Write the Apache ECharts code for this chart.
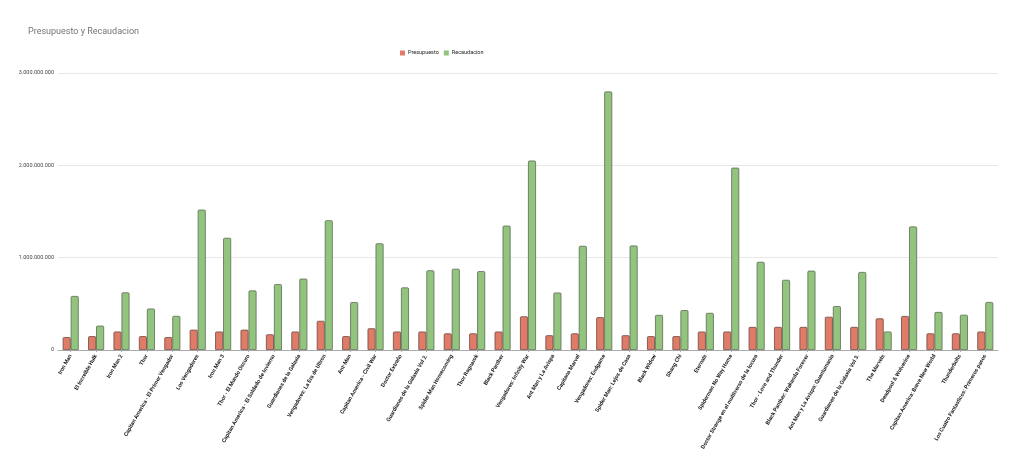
<!DOCTYPE html>
<html>
<head>
<meta charset="utf-8">
<script src="https://cdn.jsdelivr.net/npm/echarts@6/dist/echarts.min.js"></script>
<style>
  html, body { margin: 0; padding: 0; background: #fff; }
  #main { width: 1024px; height: 469px; }
</style>
</head>
<body>
<div id="main"></div>
<script>
var peliculas = [
    'Iron Man', 'El Increible Hulk', 'Iron Man 2', 'Thor',
    'Capitan America - El Primer Vengador', 'Los Vengadores', 'Iron Man 3',
    'Thor - El Mundo Oscuro', 'Capitan America - El Soldado de Invierno',
    'Guardianes de la Galaxia', 'Vengadores: La Era de Ultron', 'Ant-Man',
    'Capitan America - Civil War', 'Doctor Extraño', 'Guardianes de la Galaxia Vol 2.',
    'Spider Man Homecoming', 'Thor Ragnarok', 'Black Panther', 'Vengadores: Infinity War',
    'Ant Man y La Avispa', 'Capitana Marvel', 'Vengadores: Endgame',
    'Spider Man: Lejos de Casa', 'Black Widow', 'Shang Chi', 'Eternals',
    'Spiderman No Way Home', 'Doctor Strange en el multiverso de la locura',
    'Thor - Love and Thunder', 'Black Panther: Wakanda Forever',
    'Ant Man y La Avispa: Quantumania', 'Guardianes de la Galaxia Vol 3.',
    'The Marvels', 'Deadpool & Wolverine', 'Capitan America: Brave New World',
    'Thunderbolts', 'Los Cuatro Fantasticos: Primeros pasos'
];

// valores en dolares
var presupuesto = [
    140000000, 150000000, 200000000, 150000000, 140000000, 220000000, 200000000,
    220000000, 170000000, 200000000, 316000000, 150000000, 235000000, 200000000,
    200000000, 180000000, 180000000, 200000000, 365000000, 160000000, 180000000,
    356000000, 160000000, 150000000, 150000000, 200000000, 200000000, 250000000,
    250000000, 250000000, 360000000, 250000000, 343000000, 368000000, 180000000,
    180000000, 200000000
];

var recaudacion = [
    585000000, 264000000, 624000000, 449000000, 370000000, 1520000000, 1215000000,
    645000000, 714000000, 773000000, 1405000000, 519000000, 1155000000, 678000000,
    863000000, 880000000, 854000000, 1347000000, 2052000000, 622000000, 1128000000,
    2800000000, 1132000000, 380000000, 432000000, 402000000, 1975000000, 955000000,
    760000000, 859000000, 476000000, 845000000, 200000000, 1338000000, 412000000,
    382000000, 520000000
];

var ticksY = [0, 1000000000, 2000000000, 3000000000];

function formatoPuntos(v) {
    return String(v).replace(/\B(?=(\d{3})+(?!\d))/g, '.');
}

var myChart = echarts.init(document.getElementById('main'));

var option = {
    animation: false,
    textStyle: { fontFamily: 'Roboto, Arial, sans-serif' },
    title: {
        text: 'Presupuesto y Recaudacion',
        left: 23,
        top: 22,
        textStyle: { fontSize: 9, fontWeight: 'normal', color: '#757575' }
    },
    legend: {
        data: ['Presupuesto', 'Recaudacion'],
        left: 395,
        top: 45,
        itemWidth: 5,
        itemHeight: 5,
        itemGap: 5,
        icon: 'rect',
        itemStyle: { borderWidth: 0 },
        textStyle: { fontSize: 5.5, color: '#222', padding: [0, 0, 0, -2] }
    },
    grid: {
        left: 58,
        right: 26,
        top: 73,
        bottom: 119,
        containLabel: false
    },
    xAxis: {
        type: 'category',
        data: peliculas,
        axisLine: { lineStyle: { color: '#aaa', width: 1 } },
        axisTick: { show: true, alignWithLabel: true, length: 2, lineStyle: { color: '#aaa' } },
        axisLabel: {
            rotate: 60,
            interval: 0,
            fontSize: 5.5,
            color: '#222',
            fontWeight: 'bold',
            margin: 5
        }
    },
    yAxis: {
        type: 'value',
        min: 0,
        max: ticksY[ticksY.length - 1],
        interval: ticksY[1],
        axisLine: { show: false },
        axisTick: { show: false },
        axisLabel: {
            fontSize: 5.5,
            color: '#444',
            margin: 4,
            formatter: formatoPuntos
        },
        splitLine: { lineStyle: { color: '#e8e8e8', width: 1 } }
    },
    series: [
        {
            name: 'Presupuesto',
            type: 'bar',
            data: presupuesto,
            barWidth: 8,
            barGap: '0%',
            itemStyle: {
                color: '#e07b67',
                borderColor: '#6b4a42',
                borderWidth: 0.8,
                borderRadius: [1, 1, 0, 0]
            }
        },
        {
            name: 'Recaudacion',
            type: 'bar',
            data: recaudacion,
            barWidth: 8,
            itemStyle: {
                color: '#93c47d',
                borderColor: '#5b6b55',
                borderWidth: 0.8,
                borderRadius: [1, 1, 0, 0]
            }
        }
    ]
};

option && myChart.setOption(option);
</script>
</body>
</html>
